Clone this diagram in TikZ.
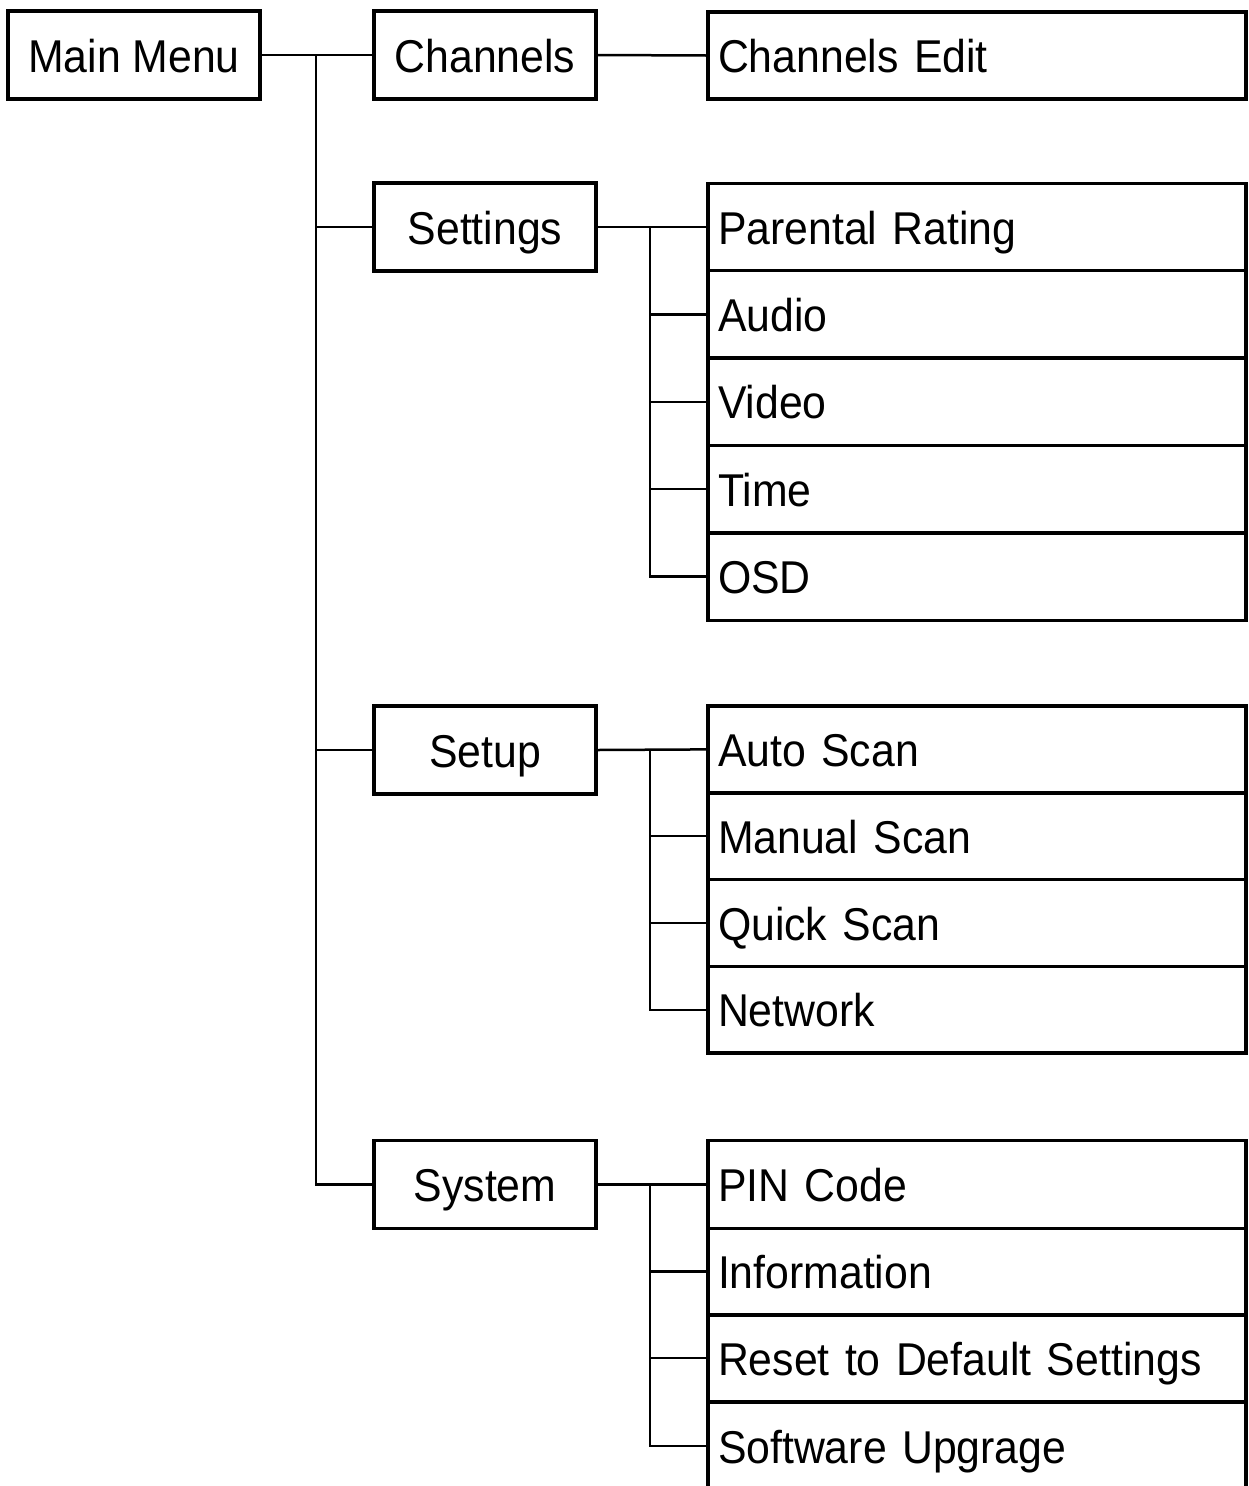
\documentclass[tikz,border=0pt]{standalone}
\usepackage{fontspec}
\setmainfont[FakeStretch=0.93]{Liberation Sans}
\begin{document}
\begin{tikzpicture}[x=1pt,y=-1pt,
  every node/.style={font=\fontsize{46}{54}\selectfont, text height=36pt, text depth=2pt},
  box/.style={draw, line width=3.5pt, minimum height=88pt, inner sep=0pt},
  leftbox/.style={box, minimum width=222pt, align=center},
  menubox/.style={box, minimum width=252pt, align=center},
  itembox/.style={box, text width=528pt, inner xsep=5pt, xshift=0pt, align=left, minimum height=#1},
  itembox/.default=87.4pt,
  conn/.style={line width=2.5pt}]
\clip (0,0) rectangle (1248,1486);
\fill[white] (0,0) rectangle (1248,1486);
% level 0 and 1
\node[menubox] (main) at (134,55) {Main Menu};
\node[leftbox] (channels) at (485,55) {Channels};
\node[leftbox] (settings) at (485,227) {Settings};
\node[leftbox] (setup) at (485,750) {Setup};
\node[leftbox] (system) at (485,1184.5) {System};
% level 2
\node[itembox=87pt] (chedit) at (977,55.5) {\hspace*{5pt}Channels Edit};
\node[itembox] (parental) at (977,227) {\hspace*{5pt}Parental Rating};
\node[itembox] (audio) at (977,314.4) {\hspace*{5pt}Audio};
\node[itembox] (video) at (977,401.8) {\hspace*{5pt}Video};
\node[itembox] (time) at (977,489.2) {\hspace*{5pt}Time};
\node[itembox] (osd) at (977,576.6) {\hspace*{5pt}OSD};
\node[itembox=86.8pt] (auto) at (977,749.4) {\hspace*{5pt}Auto Scan};
\node[itembox=86.8pt] (manual) at (977,836.2) {\hspace*{5pt}Manual Scan};
\node[itembox=86.8pt] (quick) at (977,923) {\hspace*{5pt}Quick Scan};
\node[itembox=86.8pt] (network) at (977,1009.8) {\hspace*{5pt}Network};
\node[itembox=88pt] (pin) at (977,1184.5) {\hspace*{5pt}PIN Code};
\node[itembox=86.5pt] (info) at (977,1271.7) {\hspace*{5pt}Information};
\node[itembox=86.5pt] (reset) at (977,1358.2) {\hspace*{5pt}Reset to Default Settings};
\node[itembox=88pt] (soft) at (977,1446) {\hspace*{5pt}Software Upgrage};
% main trunk
\coordinate (tm) at (316,0);
\draw[conn] (main.east) -- (channels.west);
\draw[conn] (main.east -| tm) |- (system.west);
\foreach \n in {settings,setup}
  \draw[conn] (\n.west -| tm) -- (\n.west);
% channels
\draw[conn] (channels.east) -- (chedit.west);
% sub trees
\coordinate (tb) at (650,0);
\draw[conn] (settings.east) -- (parental.west);
\draw[conn] (settings.east -| tb) |- (osd.west);
\foreach \n in {audio,video,time}
  \draw[conn] (\n.west -| tb) -- (\n.west);
\draw[conn] (setup.east) -- (auto.west);
\draw[conn] (setup.east -| tb) |- (network.west);
\foreach \n in {manual,quick}
  \draw[conn] (\n.west -| tb) -- (\n.west);
\draw[conn] (system.east) -- (pin.west);
\draw[conn] (system.east -| tb) |- (soft.west);
\foreach \n in {info,reset}
  \draw[conn] (\n.west -| tb) -- (\n.west);
\end{tikzpicture}
\end{document}
